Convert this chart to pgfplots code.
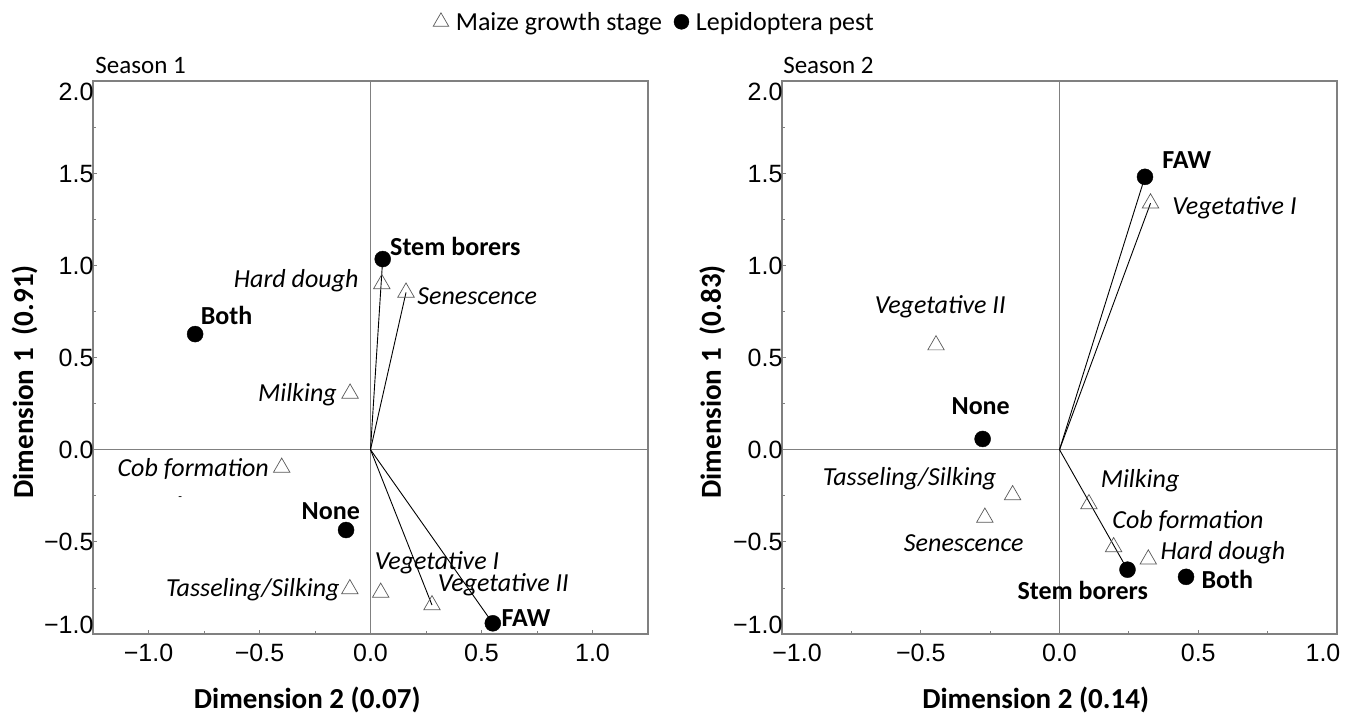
\documentclass[border=0pt]{standalone}
\usepackage{pgfplots}
\pgfplotsset{compat=1.18}
\usepackage{fontspec}
\setmainfont{Carlito}
\newfontfamily\arialf{Liberation Sans}
\definecolor{boxgray}{gray}{0.5}
\definecolor{trigray}{gray}{0.35}

% Season 1 data
\pgfplotstableread{
x y
0.051 0.899
0.160 0.853
-0.092 0.305
-0.400 -0.097
-0.093 -0.756
0.046 -0.775
0.277 -0.843
}\stageA
\pgfplotstableread{
x y
0.055 1.034
-0.790 0.627
-0.110 -0.436
0.551 -0.942
}\pestA
% Season 2 data
\pgfplotstableread{
x y
0.328 1.337
-0.445 0.567
-0.169 -0.246
-0.269 -0.368
0.106 -0.295
0.195 -0.528
0.320 -0.595
}\stageB
\pgfplotstableread{
x y
0.308 1.480
-0.277 0.058
0.245 -0.651
0.456 -0.690
}\pestB

\tikzset{
  lab/.style={font=\fontsize{26}{30}\selectfont\itshape, inner sep=0pt},
  plab/.style={font=\fontsize{26}{30}\selectfont\bfseries, inner sep=0pt},
}
\pgfplotsset{
  myax/.style={
    scale only axis, width=555pt, height=553pt, anchor=south west,
    ymin=-1, ymax=2,
    axis line style={boxgray, line width=1.2pt},
    tick align=inside, xtick pos=bottom, ytick pos=left,
    major tick length=4pt, minor tick length=3pt,
    tick style={boxgray, line width=0.8pt},
    ticklabel style={font=\arialf\fontsize{25}{29}\selectfont},
    xticklabel style={yshift=-7pt},
    yticklabel style={xshift=4pt},
    ytick={-1,-0.5,0,0.5,1,1.5,2},
    minor ytick={-0.75,-0.25,0.25,0.75,1.25,1.75},
    yticklabels={\raisebox{9pt}[0.72em][0pt]{−1.0},\raisebox{0pt}[0.72em][0pt]{−0.5},\raisebox{0pt}[0.72em][0pt]{0.0},\raisebox{0pt}[0.72em][0pt]{0.5},\raisebox{0pt}[0.72em][0pt]{1.0},\raisebox{0pt}[0.72em][0pt]{1.5},\raisebox{-11pt}[0.72em][0pt]{2.0}},
    extra x ticks={0}, extra y ticks={0},
    extra x tick labels={}, extra y tick labels={},
    extra tick style={grid=major, major tick length=0pt, major grid style={boxgray, line width=1pt}},
    xlabel style={font=\fontsize{29}{33}\selectfont\bfseries, anchor=base},
    ylabel style={font=\fontsize{29}{33}\selectfont\bfseries, anchor=base},
    clip=false,
  },
  stage/.style={only marks, mark=triangle, mark size=9.5pt, mark options={draw=trigray, fill=white, line width=0.7pt}},
  pest/.style={only marks, mark=*, mark size=8pt, mark options={draw=black, fill=black}},
  seg/.style={black, line width=0.9pt, no marks},
}

\begin{document}
\begin{tikzpicture}[x=1pt,y=1pt]
\useasboundingbox (0,0) rectangle (1355,714);
% ---------------- Season 1 ----------------
\begin{axis}[myax, at={(93pt,80pt)},
  xmin=-1.25, xmax=1.25,
  xtick={-1,-0.5,0,0.5,1}, minor xtick={-1.25,-0.75,-0.25,0.25,0.75,1.25},
  xticklabels={−1.0,−0.5,0.0,0.5,1.0},
  xlabel={Dimension 2 (0.07)}, ylabel={Dimension 1\ \ (0.91)},
  xlabel style={at={(axis description cs:0.386,-0.1356)}},
  ylabel style={at={(axis description cs:-0.108,0.456)}},
  legend style={at={(rel axis cs:1.0117,1.107)}, anchor=center, draw=none, fill=none,
    legend columns=2, font=\fontsize{26}{30}\selectfont,
    /tikz/every odd column/.append style={column sep=5pt},
    /tikz/every even column/.append style={column sep=10pt}},
  legend cell align=left,
]
\addlegendimage{only marks, mark=triangle, mark size=9pt, mark options={draw=trigray, fill=white, line width=0.7pt}}
\addlegendentry{Maize growth stage}
\addlegendimage{only marks, mark=*, mark size=7.5pt, mark options={fill=black}}
\addlegendentry{Lepidoptera pest}
\addplot[seg] coordinates {(0,0) (0.055,1.034)};
\addplot[seg] coordinates {(0,0) (0.160,0.853)};
\addplot[seg] coordinates {(0,0) (0.277,-0.843)};
\addplot[seg] coordinates {(0,0) (0.551,-0.942)};
\addplot[stage] table {\stageA};
\addplot[pest] table {\pestA};
\node[lab, anchor=east] at (axis cs:-0.053,0.915) {Hard dough};
\node[lab, anchor=west] at (axis cs:0.21,0.835) {Senescence};
\node[lab, anchor=east] at (axis cs:-0.151,0.30) {Milking};
\node[lab, anchor=east] at (axis cs:-0.457,-0.103) {Cob formation};
\node[lab, anchor=east] at (axis cs:-0.138,-0.762) {Tasseling/Silking};
\node[lab, anchor=west] at (axis cs:0.019,-0.615) {Vegetative I};
\node[lab, anchor=west] at (axis cs:0.303,-0.735) {Vegetative II};
\node[plab, anchor=west] at (axis cs:0.088,1.10) {Stem borers};
\node[plab, anchor=west] at (axis cs:-0.765,0.73) {Both};
\node[plab, anchor=center] at (axis cs:-0.179,-0.333) {None};
\node[plab, anchor=west] at (axis cs:0.59,-0.913) {FAW};
\node[font=\fontsize{12}{14}\selectfont, inner sep=0pt] at (axis cs:-0.857,-0.263) {-};
\node[anchor=base west, font=\fontsize{25}{30}\selectfont, inner sep=0pt] at (rel axis cs:0.004,1.013) {Season 1};
\end{axis}
% ---------------- Season 2 ----------------
\begin{axis}[myax, at={(782pt,80pt)},
  xmin=-1, xmax=1,
  xtick={-1,-0.5,0,0.5,1}, minor xtick={-0.75,-0.25,0.25,0.75},
  xticklabels={\makebox[0pt][c]{\hspace{30pt}−1.0},−0.5,0.0,0.5,\makebox[0pt][c]{1.0\hspace{28pt}}},
  xlabel={Dimension 2 (0.14)}, ylabel={Dimension 1\ \ (0.83)},
  xlabel style={at={(axis description cs:0.457,-0.1356)}},
  ylabel style={at={(axis description cs:-0.110,0.456)}},
]
\addplot[seg] coordinates {(0,0) (0.308,1.480)};
\addplot[seg] coordinates {(0,0) (0.328,1.337)};
\addplot[seg] coordinates {(0,0) (0.245,-0.651)};
\addplot[stage] table {\stageB};
\addplot[pest] table {\pestB};
\node[plab, anchor=west] at (axis cs:0.37,1.57) {FAW};
\node[lab, anchor=west] at (axis cs:0.406,1.315) {Vegetative I};
\node[lab, anchor=center] at (axis cs:-0.43,0.775) {Vegetative II};
\node[plab, anchor=center] at (axis cs:-0.284,0.236) {None};
\node[lab, anchor=east] at (axis cs:-0.227,-0.155) {Tasseling/Silking};
\node[lab, anchor=center] at (axis cs:-0.345,-0.505) {Senescence};
\node[lab, anchor=west] at (axis cs:0.148,-0.169) {Milking};
\node[lab, anchor=west] at (axis cs:0.19,-0.387) {Cob formation};
\node[lab, anchor=west] at (axis cs:0.364,-0.56) {Hard dough};
\node[plab, anchor=center] at (axis cs:0.084,-0.764) {Stem borers};
\node[plab, anchor=west] at (axis cs:0.511,-0.704) {Both};
\node[anchor=base west, font=\fontsize{25}{30}\selectfont, inner sep=0pt] at (rel axis cs:0.002,1.013) {Season 2};
\end{axis}
\end{tikzpicture}
\end{document}
